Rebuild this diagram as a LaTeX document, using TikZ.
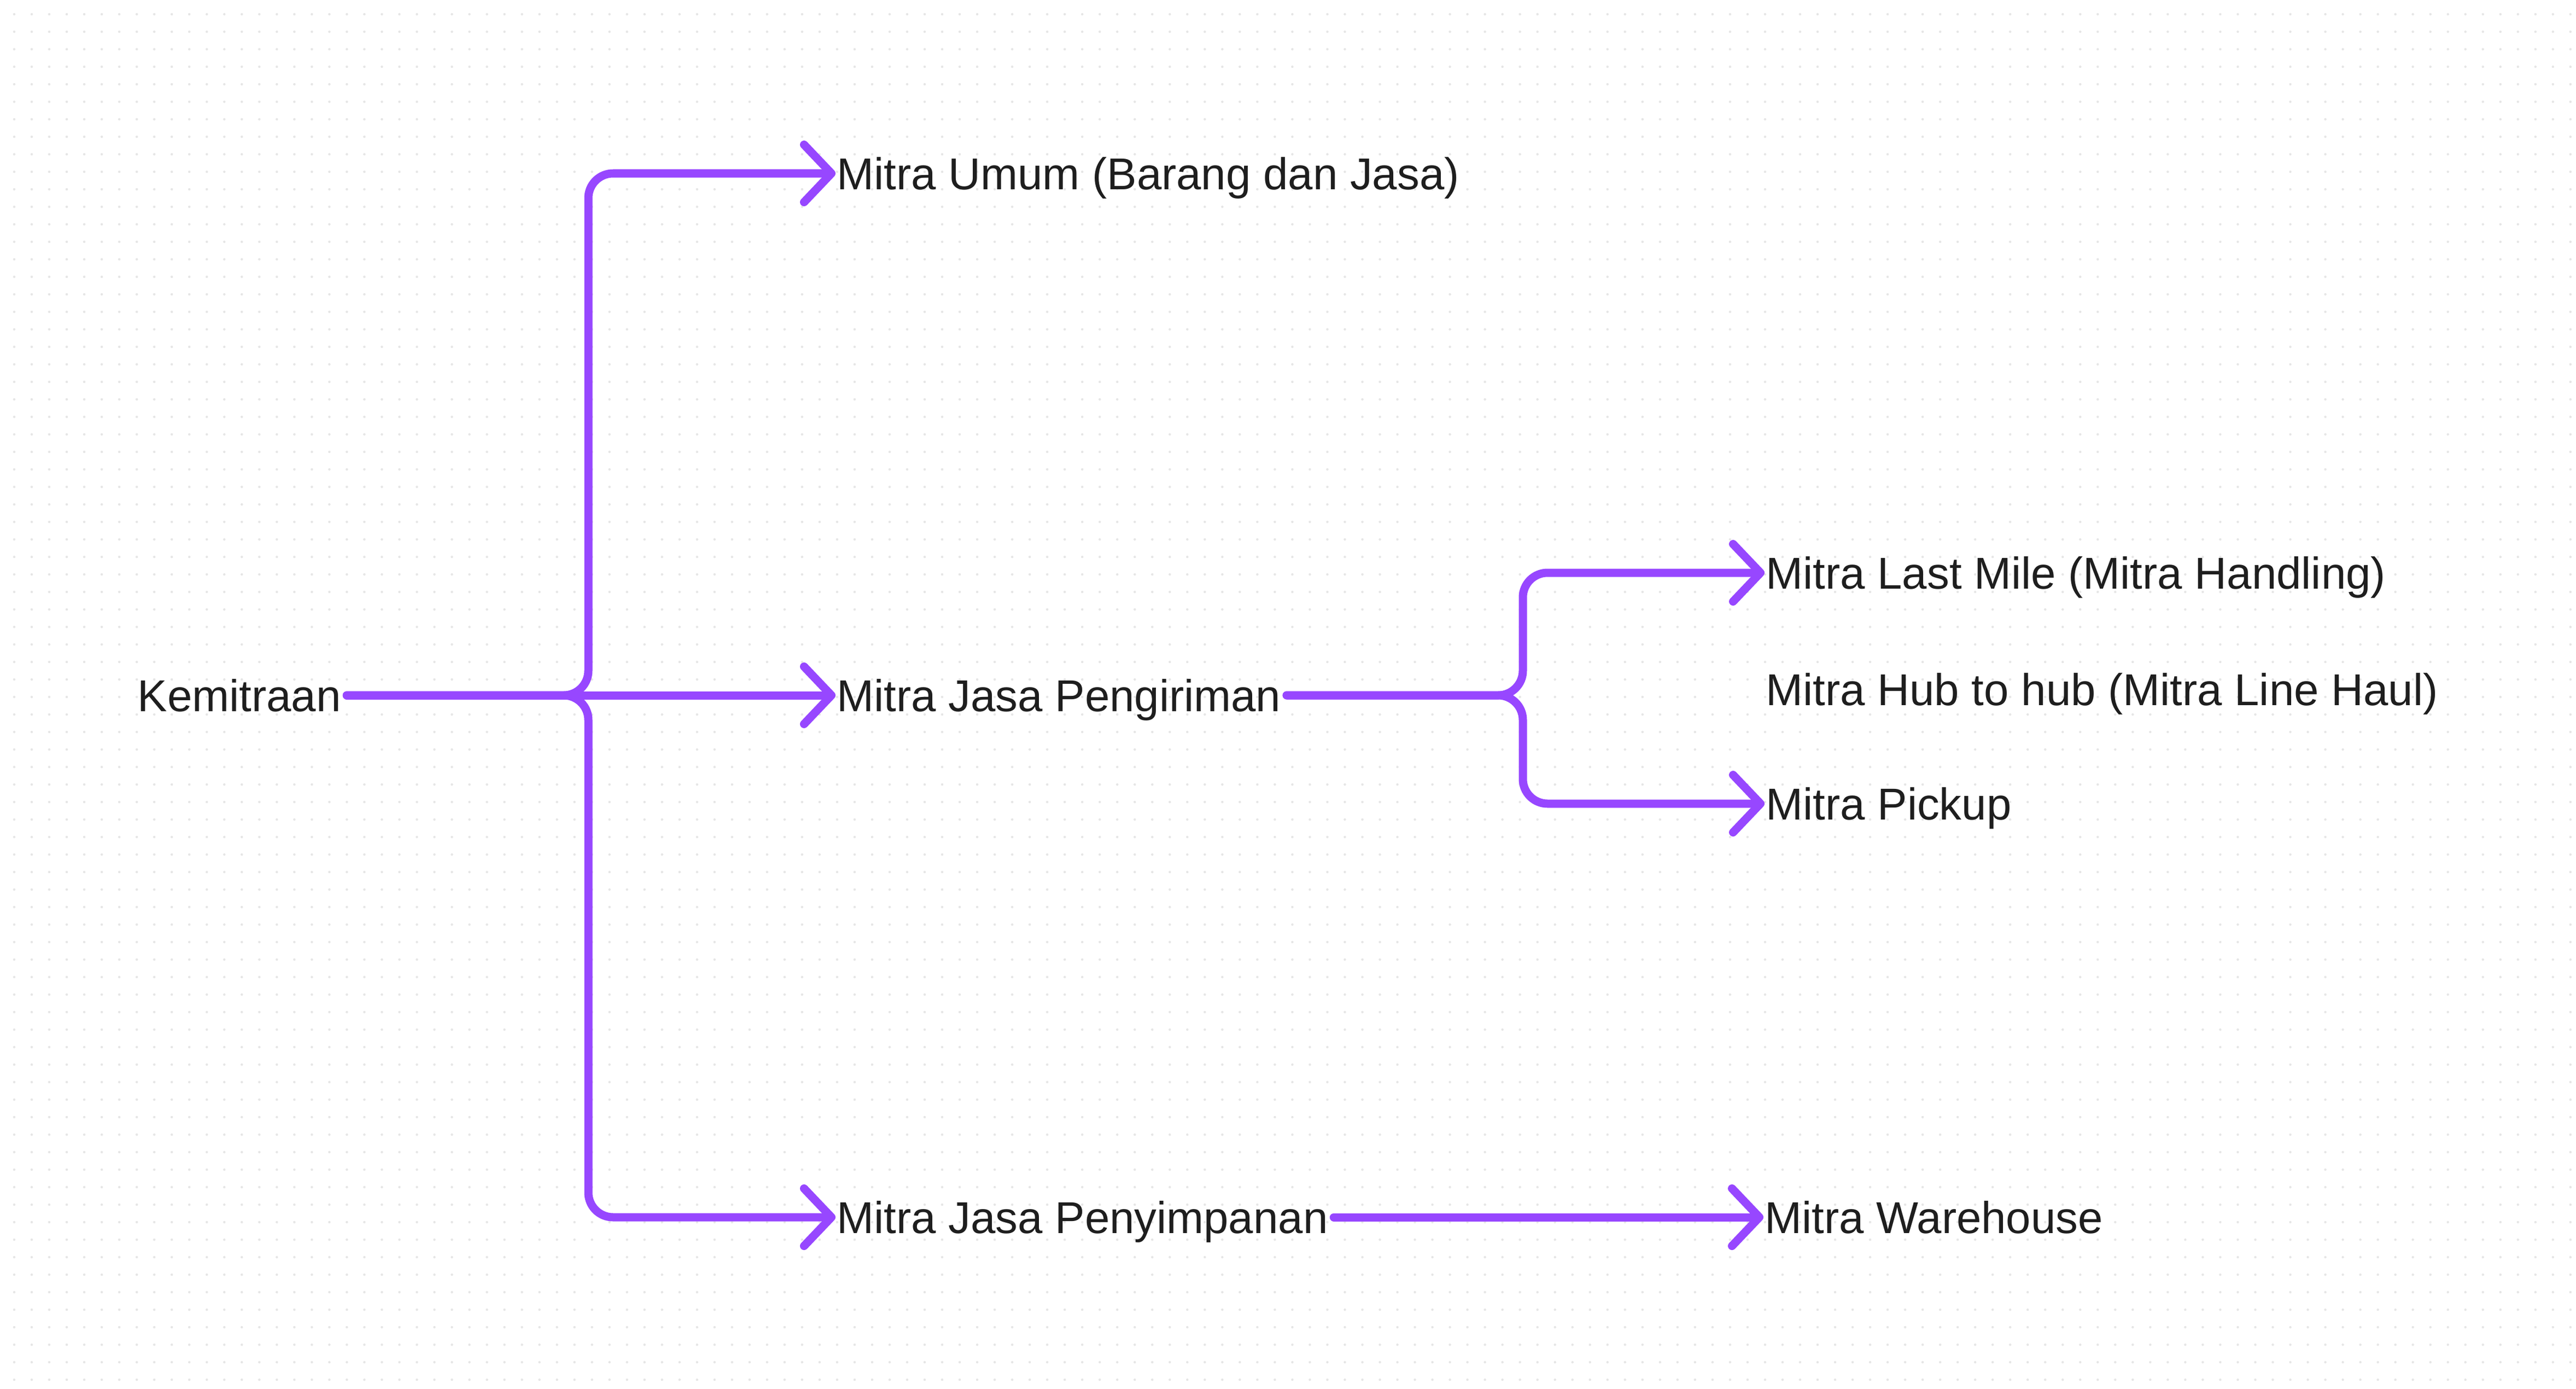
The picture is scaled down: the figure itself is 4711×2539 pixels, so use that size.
\documentclass[tikz,border=0pt]{standalone}
\usepackage{fontspec}
\setmainfont{Liberation Sans}
\usetikzlibrary{arrows.meta}
\definecolor{vio}{HTML}{9747FF}
\definecolor{ink}{HTML}{1E1E1E}
\definecolor{dotc}{HTML}{E6E6E6}
\tikzset{
    TX/.style ={anchor=west, inner sep=0pt, text height=0.58cm, text depth=0pt, text=ink, font=\fontsize{23.2pt}{27pt}\selectfont},
    LN/.style ={draw=vio, line width=0.15cm, line cap=round, rounded corners=0.45cm, shorten <=0.1cm, shorten >=0.02cm, -{Straight Barb[round,length=0.5cm,width=1.05cm]}},
    DT/.style ={draw=dotc, line width=0.045cm, line cap=round, dash pattern=on 0pt off 0.32cm}}

\begin{document}
\begin{tikzpicture}[x=0.01cm,y=-0.01cm]
        \useasboundingbox (0,0) rectangle (4711,2539);
        \foreach \y in {26,58,...,2522} \draw[DT] (26,\y) -- (4705,\y);
        \node[TX] (K) at(251,1271){Kemitraan};
        \node[TX] (U) at(1530,317){Mitra Umum (Barang dan Jasa)};
        \node[TX] (P) at(1530,1271){Mitra Jasa Pengiriman};
        \node[TX] (S) at(1530,2225){Mitra Jasa Penyimpanan};
        \node[TX] (L) at(3229,1047){Mitra Last Mile (Mitra Handling)};
        \node[TX] (H) at(3229,1260){Mitra Hub to hub (Mitra Line Haul)};
        \node[TX] (C) at(3229,1469){Mitra Pickup};
        \node[TX] (W) at(3227,2225){Mitra Warehouse};
        \coordinate (A) at(1076,1271);
        \coordinate (B) at(2785,1271);
        \draw[LN] (K.east) -- (A) |- (U.west);
        \draw[LN] (K.east) -- (P.west);
        \draw[LN] (K.east) -- (A) |- (S.west);
        \draw[LN] (P.east) -- (B) |- (L.west);
        \draw[LN] (P.east) -- (B) |- (C.west);
        \draw[LN] (S.east) -- (W.west);
    \end{tikzpicture}
\end{document}
